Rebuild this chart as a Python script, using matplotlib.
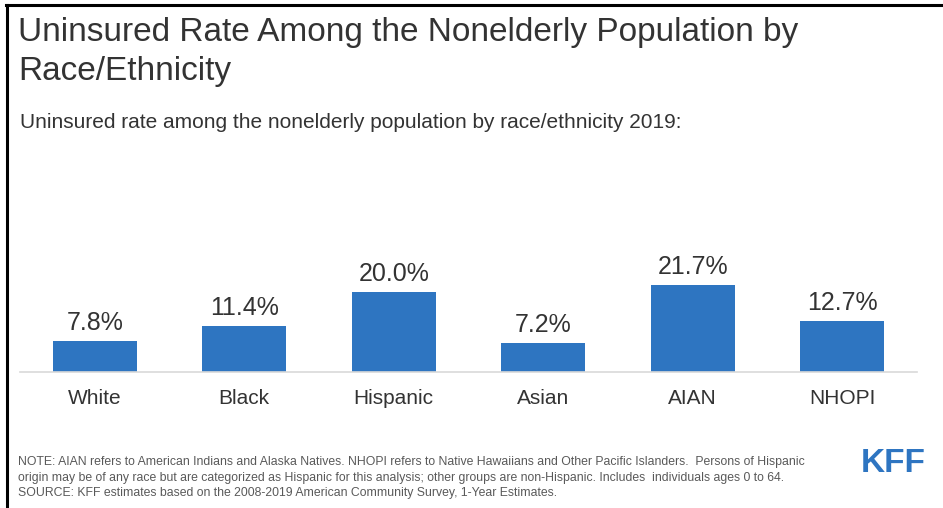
import matplotlib
matplotlib.use("Agg")
import matplotlib.pyplot as plt
from matplotlib.lines import Line2D

categories = ["White", "Black", "Hispanic", "Asian", "AIAN", "NHOPI"]
uninsured_rate = [7.8, 11.4, 20.0, 7.2, 21.7, 12.7]
value_labels = ["7.8%", "11.4%", "20.0%", "7.2%", "21.7%", "12.7%"]

title = "Uninsured Rate Among the Nonelderly Population by\nRace/Ethnicity"
subtitle = "Uninsured rate among the nonelderly population by race/ethnicity 2019:"
note = ("NOTE: AIAN refers to American Indians and Alaska Natives. NHOPI refers to Native Hawaiians and Other Pacific Islanders.  Persons of Hispanic\n"
        "origin may be of any race but are categorized as Hispanic for this analysis; other groups are non-Hispanic. Includes  individuals ages 0 to 64.")
source = "SOURCE: KFF estimates based on the 2008-2019 American Community Survey, 1-Year Estimates."

BLUE = "#2E75C1"
DARK = "#333333"
GRAY = "#595959"

plt.rcParams["font.family"] = ["Liberation Sans", "DejaVu Sans"]

W, H = 943, 508
fig = plt.figure(figsize=(W / 100, H / 100), dpi=100)
fig.patch.set_facecolor("white")

ax = fig.add_axes([20 / W, 136 / H, (917 - 20) / W, 120 / H])
x = range(len(categories))
ax.bar(x, uninsured_rate, width=0.56, color=BLUE)
ax.set_xlim(-0.5, len(categories) - 0.5)
ax.set_ylim(0, 30)
for xi, v, lab in zip(x, uninsured_rate, value_labels):
    ax.annotate(lab, (xi, v), xytext=(0, 6), textcoords="offset pixels",
                ha="center", va="bottom", fontsize=18, color=DARK)
ax.set_xticks(list(x))
ax.set_xticklabels(categories, fontsize=15, color=DARK)
ax.tick_params(axis="x", length=0, pad=12)
ax.set_yticks([])
for s in ("left", "right", "top"):
    ax.spines[s].set_visible(False)
ax.spines["bottom"].set_color("#D9D9D9")
ax.spines["bottom"].set_linewidth(1.2)
ax.patch.set_visible(False)

fig.text(18 / W, 1 - 17 / H, title, fontsize=24, color=DARK,
         ha="left", va="top", linespacing=1.35)
fig.text(20 / W, 1 - 122 / H, subtitle, fontsize=15, color=DARK,
         ha="left", va="center")
fig.text(18 / W, 1 - 470 / H, note, fontsize=8.8, color=GRAY,
         ha="left", va="center", linespacing=1.5)
fig.text(18 / W, 1 - 493 / H, source, fontsize=8.8, color=GRAY,
         ha="left", va="center")
fig.text(893 / W, 1 - 464 / H, "KFF", fontsize=24, color=BLUE, fontweight="bold",
         ha="center", va="center")

fig.add_artist(Line2D([6.5 / W, 6.5 / W], [0, 1 - 5 / H], color="black", linewidth=2.2))
fig.add_artist(Line2D([5.5 / W, 1], [1 - 5 / H, 1 - 5 / H], color="black", linewidth=2.2))

fig.savefig("out.png", dpi=100)
